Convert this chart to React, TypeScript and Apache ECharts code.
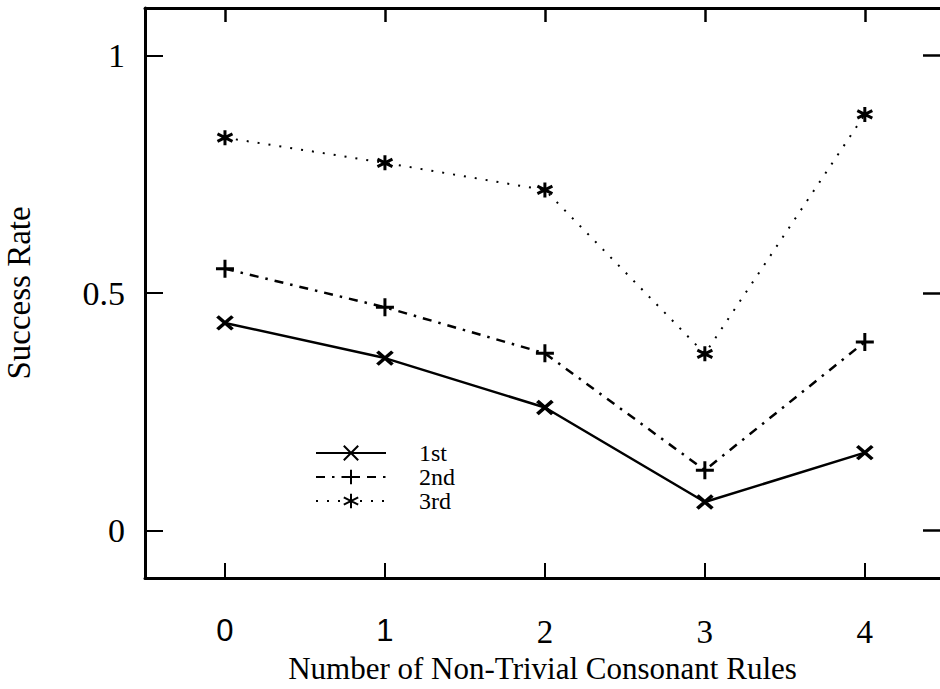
import React, { useEffect, useRef } from "react";
import * as echarts from "echarts";

const xValues = [0, 1, 2, 3, 4];
const seriesNames = ["1st", "2nd", "3rd"];
const first = [0.437, 0.363, 0.259, 0.06, 0.164];
const second = [0.551, 0.47, 0.373, 0.127, 0.397];
const third = [0.827, 0.774, 0.717, 0.372, 0.876];
const yTicks = [0, 0.5, 1];
const xTicks = [0, 1, 2, 3, 4];
const xTicksSans = [0, 1];
const xTicksSerif = [2, 3, 4];

const SERIF = "Liberation Serif";
const SANS = "Liberation Sans";

const symX = "path://M0,0 L16,14 M16,0 L0,14";
const symPlus = "path://M0,9 L18,9 M9,0 L9,18";
const symStar = "path://M5,0 L5,10 M0.67,2.5 L9.33,7.5 M0.67,7.5 L9.33,2.5";

const pairs = (ys: number[]) => xValues.map((x, i) => [x, ys[i]]);

const X_MIN = -0.5;
const X_MAX = 4.47;

export default function App() {
  const ref = useRef<HTMLDivElement>(null);
  useEffect(() => {
    if (!ref.current) return;
    const chart = echarts.init(ref.current, null, { renderer: "svg" });
    const axisLine = { show: true, onZero: false, lineStyle: { color: "#000", width: 3 } };
    const labelAxis = (values: number[], family: string, size: number) => ({
      type: "value",
      min: X_MIN,
      max: X_MAX,
      position: "bottom",
      axisLine: { show: false, onZero: false },
      splitLine: { show: false },
      axisTick: { show: false },
      axisLabel: {
        customValues: values,
        margin: 37,
        fontFamily: family,
        fontSize: size,
        color: "#000",
      },
    });
    chart.setOption({
      animation: false,
      backgroundColor: "#fff",
      grid: {
        left: 145,
        top: 8,
        bottom: 111,
        right: 0,
        containLabel: false,
        outerBoundsMode: "none",
      },
      legend: {
        orient: "vertical",
        left: 310,
        top: 436,
        itemWidth: 70,
        itemHeight: 18,
        itemGap: 0,
        data: seriesNames,
        textStyle: {
          fontFamily: SERIF,
          fontSize: 24,
          color: "#000",
          padding: [0, 0, 0, 28],
        },
      },
      xAxis: [
        {
          type: "value",
          min: X_MIN,
          max: X_MAX,
          position: "bottom",
          axisLine,
          splitLine: { show: false },
          axisTick: {
            inside: true,
            length: 15,
            lineStyle: { color: "#000", width: 2 },
            customValues: xTicks,
          },
          axisLabel: { show: false },
          name: "Number of Non-Trivial Consonant Rules",
          nameLocation: "middle",
          nameGap: 75,
          nameTextStyle: { fontFamily: SERIF, fontSize: 31, color: "#000" },
        },
        {
          type: "value",
          min: X_MIN,
          max: X_MAX,
          position: "top",
          axisLine,
          splitLine: { show: false },
          axisTick: {
            inside: true,
            length: 14,
            lineStyle: { color: "#000", width: 2.5 },
            customValues: xTicks,
          },
          axisLabel: { show: false },
        },
        labelAxis(xTicksSans, SANS, 31),
        labelAxis(xTicksSerif, SERIF, 33),
      ],
      yAxis: [
        {
          type: "value",
          min: -0.1,
          max: 1.1,
          position: "left",
          axisLine,
          splitLine: { show: false },
          axisTick: {
            inside: true,
            length: 18,
            lineStyle: { color: "#000", width: 2 },
            customValues: yTicks,
          },
          axisLabel: {
            customValues: yTicks,
            margin: 20,
            fontFamily: SERIF,
            fontSize: 34,
            color: "#000",
          },
          name: "Success Rate",
          nameLocation: "middle",
          nameGap: 110,
          nameRotate: 90,
          nameTextStyle: { fontFamily: SERIF, fontSize: 33, color: "#000" },
        },
        {
          type: "value",
          min: -0.1,
          max: 1.1,
          position: "right",
          axisLine: { show: false, onZero: false },
          splitLine: { show: false },
          axisTick: {
            inside: true,
            length: 17,
            lineStyle: { color: "#000", width: 2.5 },
            customValues: yTicks,
          },
          axisLabel: { show: false },
        },
      ],
      series: [
        {
          name: seriesNames[0],
          type: "line",
          data: pairs(first),
          symbol: symX,
          symbolSize: [15, 13],
          lineStyle: { color: "#000", width: 2.5, type: "solid" },
          itemStyle: { color: "#000", borderColor: "#000", borderWidth: 3.5 },
          z: 3,
        },
        {
          name: seriesNames[1],
          type: "line",
          data: pairs(second),
          symbol: symPlus,
          symbolSize: 18,
          lineStyle: { color: "#000", width: 2.5, type: [9, 7, 2.5, 7] },
          itemStyle: { color: "#000", borderColor: "#000", borderWidth: 3 },
          z: 3,
        },
        {
          name: seriesNames[2],
          type: "line",
          data: pairs(third),
          symbol: symStar,
          symbolSize: 15,
          lineStyle: { color: "#000", width: 2, type: [2, 9] },
          itemStyle: { color: "#000", borderColor: "#000", borderWidth: 3 },
          z: 3,
        },
      ],
    });
    return () => chart.dispose();
  }, []);
  return (
    <div
      ref={ref}
      style={{ position: "fixed", left: 0, top: 0, width: 940, height: 689, background: "#fff" }}
    />
  );
}
